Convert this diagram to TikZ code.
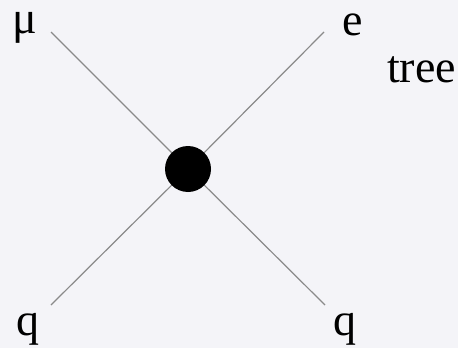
\documentclass[tikz,border=0pt]{standalone}
\usepackage{fontspec}
\setmainfont{Liberation Serif}
\definecolor{bg}{HTML}{F4F4F8}
\definecolor{linegray}{HTML}{8A8A8A}
\begin{document}
\begin{tikzpicture}[x=1pt,y=-1pt,
  leg/.style={draw=linegray,line width=1.2pt},
  lbl/.style={anchor=base west,inner sep=0pt,font=\fontsize{46}{52}\selectfont},
  vertex/.style={circle,fill=black,minimum size=46pt,inner sep=0pt}]
\fill[bg] (0,0) rectangle (458,348);
\useasboundingbox (0,0) rectangle (458,348);
\coordinate (tl) at (51,32);
\coordinate (tr) at (324,32);
\coordinate (bl) at (51,305);
\coordinate (br) at (325,305);
\coordinate (c) at (188,169);
\draw[leg] (tl) -- (c) -- (br);
\draw[leg] (tr) -- (c) -- (bl);
\node[vertex] (v) at (c) {};
\node[lbl] (mu) at (12,34) {μ};
\node[lbl] (e) at (342,35) {e};
\node[lbl] (tree) at (387,82) {tree};
\node[lbl] (q1) at (16,335) {q};
\node[lbl] (q2) at (333,335) {q};
\end{tikzpicture}
\end{document}
